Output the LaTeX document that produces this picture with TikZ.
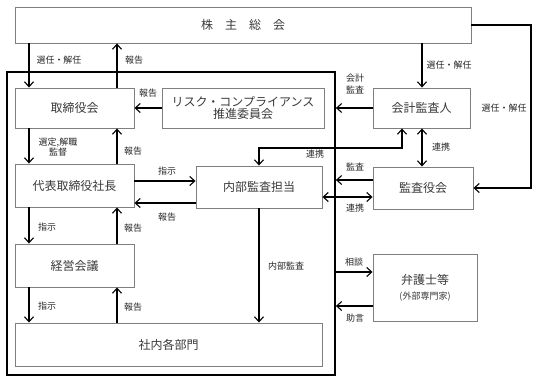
\documentclass[tikz,border=0pt]{standalone}
\usepackage{fontspec}
\setmainfont{Noto Sans CJK JP}
\usetikzlibrary{arrows.meta}
\definecolor{boxline}{HTML}{7F7F7F}
\definecolor{boxtext}{HTML}{3A3A3A}
\tikzset{
  box/.style={draw=boxline, line width=0.9pt, fill=white, inner sep=0pt,
    font=\fontsize{12}{14}\selectfont, text=boxtext, align=center},
  lbl/.style={font=\fontsize{9}{10.5}\selectfont, text=black!85, inner sep=0pt, align=center},
  arr/.style={line width=1.1pt, -{Straight Barb[length=5pt,width=9pt]}},
  darr/.style={line width=1.1pt, {Straight Barb[length=5pt,width=9pt]}-{Straight Barb[length=5pt,width=9pt]}},
  frame/.style={draw=black, line width=1.8pt}
}
\begin{document}
\begin{tikzpicture}[x=1pt,y=-1pt]
\useasboundingbox (0,0) rectangle (539,380);
% outer company frame
\node[frame, minimum width=328pt, minimum height=303pt, inner sep=0pt] (corp) at (171,223.5) {};
% boxes
\node[box, minimum width=456pt, minimum height=36pt] (sh) at (243,25) {株\hspace{1em}主\hspace{1em}総\hspace{1em}会};
\node[box, minimum width=119pt, minimum height=40pt] (tb) at (74.5,108) {取締役会};
\node[box, minimum width=162pt, minimum height=40pt] (risk) at (243,108) {リスク・コンプライアンス\\[-2pt]推進委員会};
\node[box, minimum width=97pt, minimum height=40pt] (kaikei) at (421.5,108) {会計監査人};
\node[box, minimum width=119pt, minimum height=43pt] (ceo) at (74.5,185.5) {代表取締役社長};
\node[box, minimum width=126pt, minimum height=42pt] (naibu) at (259,187) {内部監査担当};
\node[box, minimum width=100pt, minimum height=42pt] (kansa) at (423,188) {監査役会};
\node[box, minimum width=119pt, minimum height=43pt] (keiei) at (74.5,265.5) {経営会議};
\node[box, minimum width=307pt, minimum height=43pt] (shanai) at (168.5,344.5) {社内各部門};
\node[box, minimum width=104pt, minimum height=67pt] (bengo) at (425,287.5) {弁護士等\\[1pt]{\fontsize{9}{10.5}\selectfont (外部専門家)}};
% column / row helper coordinates
\coordinate (cL) at (29,0);
\coordinate (cR) at (117,0);
\coordinate (cK) at (422,0);
\coordinate (cKe) at (402,0);
\coordinate (cE) at (531,0);
\coordinate (yLink) at (0,148);
\coordinate (yIns) at (0,181);
\coordinate (yRep) at (0,203);
\coordinate (yAud) at (0,180);
\coordinate (yCo) at (0,197);
\coordinate (yCon) at (0,272);
\coordinate (yAdv) at (0,306);
% shareholders <-> board
\draw[arr] (sh.south -| cL) -- (tb.north -| cL);
\draw[arr] (tb.north -| cR) -- (sh.south -| cR);
\draw[arr] (risk.west) -- (tb.east);
\draw[arr] (sh.south -| cK) -- (kaikei.north -| cK);
\draw[arr] (sh.east) -| (cE |- kansa.east) -- (kansa.east);
\draw[arr] (kaikei.west) -- (corp.east |- kaikei.west);
\draw[darr] (kaikei.south -| cK) -- (kansa.north -| cK);
\draw[darr] (naibu.north) -- (naibu.north |- yLink) -| (kaikei.south -| cKe);
\draw[arr] (kansa.west |- yAud) -- (corp.east |- yAud);
\draw[darr] (naibu.east |- yCo) -- (kansa.west |- yCo);
% board <-> CEO
\draw[arr] (tb.south -| cL) -- (ceo.north -| cL);
\draw[arr] (ceo.north -| cR) -- (tb.south -| cR);
\draw[arr] (ceo.east |- yIns) -- (naibu.west |- yIns);
\draw[arr] (naibu.west |- yRep) -- (ceo.east |- yRep);
\draw[arr] (ceo.south -| cL) -- (keiei.north -| cL);
\draw[arr] (keiei.north -| cR) -- (ceo.south -| cR);
\draw[arr] (keiei.south -| cL) -- (shanai.north -| cL);
\draw[arr] (shanai.north -| cR) -- (keiei.south -| cR);
\draw[arr] (naibu.south) -- (shanai.north -| naibu.south);
\draw[arr] (corp.east |- yCon) -- (bengo.west |- yCon);
\draw[arr] (bengo.west |- yAdv) -- (corp.east |- yAdv);
% labels
\node[lbl] (l1) at (59,60) {選任・解任};
\node[lbl] (l2) at (134,60) {報告};
\node[lbl] (l3) at (148,93) {報告};
\node[lbl] (l4) at (449,65) {選任・解任};
\node[lbl] (l5) at (355,84) {会計\\[2pt]監査};
\node[lbl] (l6) at (504,108) {選任・解任};
\node[lbl] (l7) at (441,147) {連携};
\node[lbl] (l8) at (315,154) {連携};
\node[lbl] (l9) at (355,167) {監査};
\node[lbl] (l10) at (355,208) {連携};
\node[lbl] (l11) at (58,147) {選定,解職\\[0pt]監督};
\node[lbl] (l12) at (133,151) {報告};
\node[lbl] (l13) at (167,171) {指示};
\node[lbl] (l14) at (167,217) {報告};
\node[lbl] (l15) at (47,227) {指示};
\node[lbl] (l16) at (133,228) {報告};
\node[lbl] (l17) at (47,306) {指示};
\node[lbl] (l18) at (133,307) {報告};
\node[lbl] (l19) at (286,266) {内部監査};
\node[lbl] (l20) at (354,262) {相談};
\node[lbl] (l21) at (355,318) {助言};
\end{tikzpicture}
\end{document}
